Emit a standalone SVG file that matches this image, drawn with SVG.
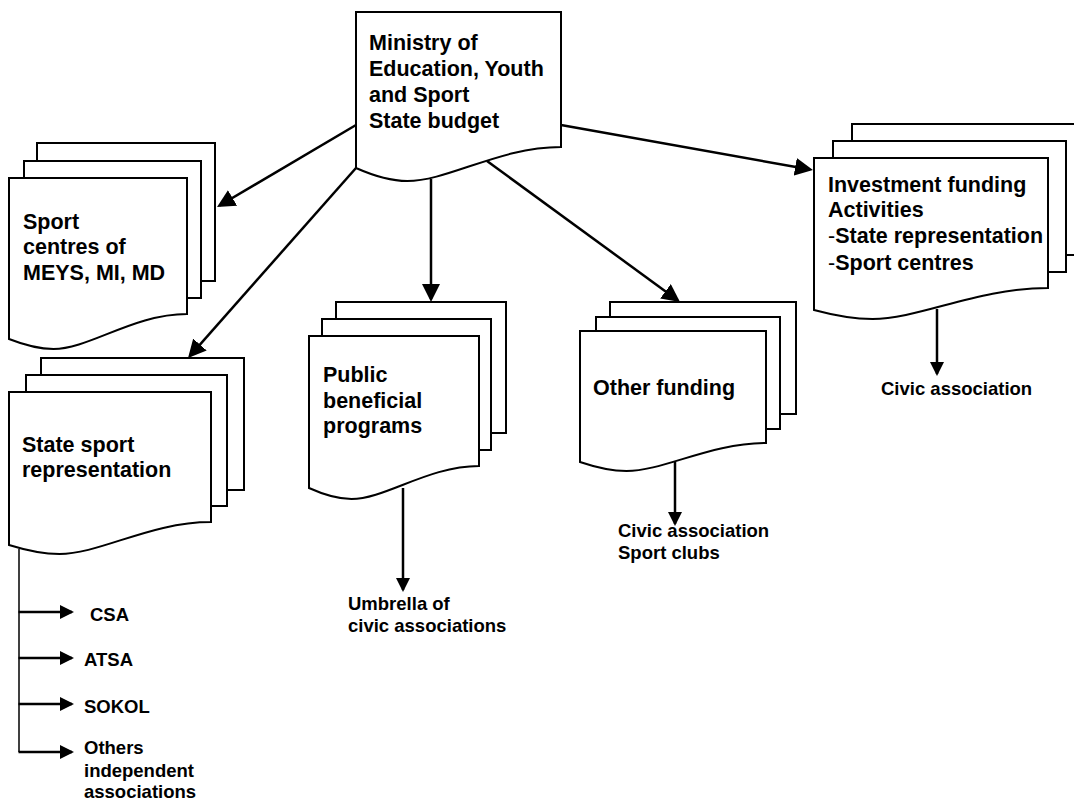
<svg xmlns="http://www.w3.org/2000/svg" width="1074" height="800" viewBox="0 0 1074 800">
<style>
.pg{fill:#fff;stroke:#000;stroke-width:2;stroke-linejoin:miter}
.t{font-family:"Liberation Sans",Arial,sans-serif;font-weight:bold;font-size:21.5px;fill:#000}
.l{font-family:"Liberation Sans",Arial,sans-serif;font-weight:bold;font-size:18.5px;fill:#000}
.c{fill:none;stroke:#000;stroke-width:2.5}
.thin{fill:none;stroke:#000;stroke-width:1.5}
.n{font-weight:normal}
</style>
<defs>
<marker id="ah" viewBox="0 0 14 14" refX="12" refY="7" markerWidth="14" markerHeight="14" markerUnits="userSpaceOnUse" orient="auto">
<path d="M0,0 L14,7 L0,14 Z" fill="#000"/>
</marker>
<marker id="ahb" viewBox="0 0 18 18" refX="15" refY="9" markerWidth="18" markerHeight="18" markerUnits="userSpaceOnUse" orient="auto">
<path d="M0,0 L18,9 L0,18 Z" fill="#000"/>
</marker>
</defs>
<rect width="1074" height="800" fill="#fff"/>

<g id="ministry">
<path class="pg" d="M356,12 H561 V147 C499.5,147 448.3,181 407.3,181 C392.9,181 376.5,177.1 356,168 Z"/>
<text class="t" x="369" y="50">Ministry of</text>
<text class="t" x="369" y="76">Education, Youth</text>
<text class="t" x="369" y="102">and Sport</text>
<text class="t" x="369" y="128">State budget</text>
</g>

<g id="sport-centres">
<rect class="pg" x="37" y="143" width="178" height="138"/>
<rect class="pg" x="24" y="161" width="177" height="137"/>
<path class="pg" d="M9,178 H187 V314 C133.6,314 89.1,349 53.5,349 C41,349 26.8,346 9,339 Z"/>
<text class="t" x="23" y="229">Sport</text>
<text class="t" x="23" y="254">centres of</text>
<text class="t" x="23" y="280">MEYS, MI, MD</text>
</g>

<g id="state-sport">
<rect class="pg" x="41" y="358" width="203" height="132"/>
<rect class="pg" x="26" y="375" width="201" height="131"/>
<path class="pg" d="M9,392 H211 V522 C150.4,522 99.9,554 59.5,554 C45.4,554 29.2,551.3 9,545 Z"/>
<text class="t" x="22" y="452">State sport</text>
<text class="t" x="22" y="477">representation</text>
</g>

<g id="public-programs">
<rect class="pg" x="336" y="302" width="170" height="131"/>
<rect class="pg" x="322" y="319" width="169" height="131"/>
<path class="pg" d="M309,336 H479 V466 C428,466 385.5,499 351.5,499 C339.6,499 326,495.7 309,488 Z"/>
<text class="t" x="323" y="382">Public</text>
<text class="t" x="323" y="408">beneficial</text>
<text class="t" x="323" y="433">programs</text>
</g>

<g id="other-funding">
<rect class="pg" x="610" y="302" width="186" height="112"/>
<rect class="pg" x="596" y="317" width="184" height="112"/>
<path class="pg" d="M580,331 H766 V443 C710.2,443 663.7,471 626.5,471 C613.5,471 598.6,468.3 580,462 Z"/>
<text class="t" x="593" y="395">Other funding</text>
</g>

<g id="investment">
<rect class="pg" x="852" y="124" width="240" height="131"/>
<rect class="pg" x="833" y="141" width="233" height="131"/>
<path class="pg" d="M814,158 H1048 V288 C977.8,288 919.3,319 872.5,319 C856.1,319 837.4,316.3 814,310 Z"/>
<text class="t" x="828" y="192">Investment funding</text>
<text class="t" x="828" y="217">Activities</text>
<text class="t" x="828" y="243"><tspan class="n">-</tspan>State representation</text>
<text class="t" x="828" y="270"><tspan class="n">-</tspan>Sport centres</text>
</g>

<g id="labels">
<text class="l" x="90" y="621">CSA</text>
<text class="l" x="84" y="666">ATSA</text>
<text class="l" x="84" y="713">SOKOL</text>
<text class="l" x="84" y="754">Others</text>
<text class="l" x="84" y="777">independent</text>
<text class="l" x="84" y="798">associations</text>
<text class="l" x="348" y="610">Umbrella of</text>
<text class="l" x="348" y="632">civic associations</text>
<text class="l" x="618" y="537">Civic association</text>
<text class="l" x="618" y="559">Sport clubs</text>
<text class="l" x="881" y="395">Civic association</text>
</g>

<g id="connectors">
<line class="c" x1="356" y1="125" x2="219.6" y2="205.5" marker-end="url(#ahb)"/>
<line class="c" x1="356" y1="168" x2="190" y2="355.8" marker-end="url(#ahb)"/>
<line class="c" x1="431" y1="179" x2="431" y2="299" marker-end="url(#ahb)"/>
<line class="c" x1="487" y1="161" x2="677.6" y2="300.2" marker-end="url(#ahb)"/>
<line class="c" x1="561" y1="125" x2="810" y2="169.5" marker-end="url(#ahb)"/>
<line class="c" x1="403" y1="488" x2="403" y2="590" marker-end="url(#ah)"/>
<line class="c" x1="675" y1="462" x2="675" y2="524" marker-end="url(#ah)"/>
<line class="c" x1="937" y1="309" x2="937" y2="374" marker-end="url(#ah)"/>
<polyline class="thin" points="19,549 19,752"/>
<line class="c" x1="18.5" y1="612" x2="72" y2="612" marker-end="url(#ah)"/>
<line class="c" x1="18.5" y1="658" x2="72" y2="658" marker-end="url(#ah)"/>
<line class="c" x1="18.5" y1="704" x2="72" y2="704" marker-end="url(#ah)"/>
<line class="c" x1="18.5" y1="752" x2="72" y2="752" marker-end="url(#ah)"/>
</g>
</svg>
